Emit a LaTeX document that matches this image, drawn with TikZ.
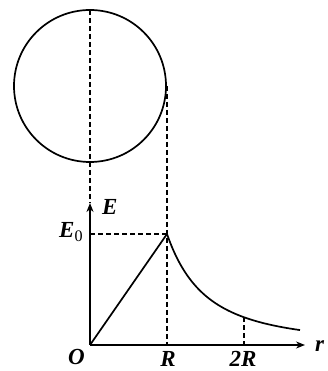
\documentclass[tikz,border=0pt]{standalone}
\usepackage{fontspec}
\setmainfont{Liberation Serif}
\usetikzlibrary{arrows.meta}
\begin{document}
\begin{tikzpicture}[x=1pt,y=1pt,
  curve/.style={line width=1.7pt},
  guide/.style={line width=1.4pt,dash pattern=on 5pt off 3pt},
  axis/.style={line width=1.7pt,-{Stealth[length=9pt,width=7pt]}},
  lbl/.style={inner sep=0pt,font=\fontsize{23}{23}\selectfont\bfseries\itshape}]
\useasboundingbox (0,0) rectangle (328,371);
\coordinate (C) at (90,285);
\coordinate (O) at (90,26);
\coordinate (P) at (167,137);
\coordinate (E0) at (90,137);
\coordinate (Rb) at (167,26);
\coordinate (R2b) at (244,26);
\coordinate (R2t) at (244,{26+111/4});
\coordinate (Etip) at (90,168);
\coordinate (rtip) at (305,26);
\coordinate (Ctop) at (90,361);
\coordinate (Cright) at (167,285);
% sphere
\draw[curve] (C) circle[radius=76];
% dashed guides
\draw[guide] (Ctop) -- (Etip);
\draw[guide] (Cright) -- (Rb);
\draw[guide] (E0) -- (P);
\draw[guide] (R2t) -- (R2b);
% axes
\draw[axis] (O) -- (rtip);
\draw[axis] (O) -- (Etip);
% graph
\draw[curve,line join=miter] (O) -- (P);
\draw[curve,domain=77:210,samples=60,smooth] plot ({90+\x},{26+111*(77/\x)^2});
% labels
\node[lbl,anchor=base west] (lE) at (102,156) {E};
\node[lbl,anchor=base west] (lE0) at (59,133) {E\textsubscript{\normalfont\upshape 0}};
\node[lbl,anchor=base west] (lO) at (68,6) {O};
\node[lbl,anchor=base] (lR) at (168,5) {R};
\node[lbl,anchor=base] (l2R) at (243,5) {2\textit{R}};
\node[lbl,anchor=base west] (lr) at (315,19) {r};
\end{tikzpicture}
\end{document}
